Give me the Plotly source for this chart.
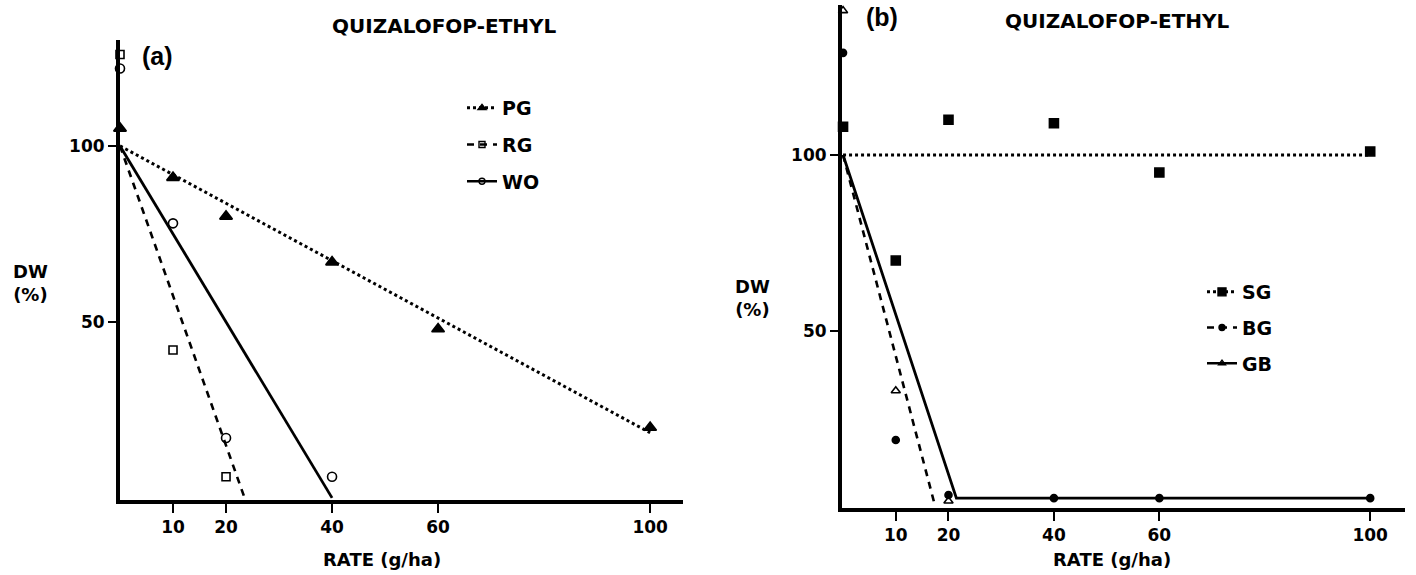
import plotly.graph_objects as go

# ---------------- data: panel (a) ----------------
pg_rate = [0, 10, 20, 40, 60, 100]
pg_dw = [105, 91, 80, 67, 48, 20]
rg_rate = [0, 10, 20]
rg_dw = [126, 42, 6]
wo_rate = [0, 10, 20, 40]
wo_dw = [122, 78, 17, 6]
pg_fit_rate = [0, 100]
pg_fit_dw = [100, 18.5]
rg_fit_rate = [0, 23.5]
rg_fit_dw = [100, 0]
wo_fit_rate = [0, 40]
wo_fit_dw = [100, 0]

# ---------------- data: panel (b) ----------------
sg_rate = [0, 10, 20, 40, 60, 100]
sg_dw = [108, 70, 110, 109, 95, 101]
bg_rate = [0, 10, 20, 40, 60, 100]
bg_dw = [129, 19, 3.4, 2.5, 2.5, 2.5]
gb_rate = [0, 10, 20]
gb_dw = [141, 33, 1.7]
sg_fit_rate = [0, 100]
sg_fit_dw = [100, 100]
bg_fit_rate = [0, 17.5]
bg_fit_dw = [100, 0]
gb_fit_rate = [0, 21.5, 100]
gb_fit_dw = [100, 2.5, 2.5]

x_ticks = [10, 20, 40, 60, 100]
y_ticks = [50, 100]

W, H = 1416, 575
BLACK = "black"
FONT = "DejaVu Sans"

fig = go.Figure()

def add_series(xs, ys, fx, fy, name, symbol, msize, dash, lw, xa, ya, legend, lsym_size):
    fig.add_trace(go.Scatter(x=fx, y=fy, mode="lines", xaxis=xa, yaxis=ya,
                             line=dict(color=BLACK, width=lw, dash=dash),
                             showlegend=False, legendgroup=name, hoverinfo="skip"))
    fig.add_trace(go.Scatter(x=xs, y=ys, mode="markers", xaxis=xa, yaxis=ya,
                             marker=dict(symbol=symbol, size=msize, color=BLACK,
                                         line=dict(color=BLACK, width=1.6)),
                             cliponaxis=False, showlegend=False, legendgroup=name))
    # legend entry (marker + line style)
    fig.add_trace(go.Scatter(x=[None], y=[None], mode="lines+markers", xaxis=xa, yaxis=ya,
                             name=name, legendgroup=name, legend=legend,
                             line=dict(color=BLACK, width=2.5 if dash != "dot" else 3, dash=dash),
                             marker=dict(symbol=symbol, size=lsym_size, color=BLACK,
                                         line=dict(color=BLACK, width=1.4))))

DASH = "7px,6px"
add_series(pg_rate, pg_dw, pg_fit_rate, pg_fit_dw, "PG", "triangle-up", 11, "dot", 3, "x", "y", "legend", 7)
add_series(rg_rate, rg_dw, rg_fit_rate, rg_fit_dw, "RG", "square-open", 8, DASH, 2.6, "x", "y", "legend", 6)
add_series(wo_rate, wo_dw, wo_fit_rate, wo_fit_dw, "WO", "circle-open", 9, "solid", 2.8, "x", "y", "legend", 6)

add_series(sg_rate, sg_dw, sg_fit_rate, sg_fit_dw, "SG", "square", 9, "dot", 3, "x2", "y2", "legend2", 8)
add_series(bg_rate, bg_dw, bg_fit_rate, bg_fit_dw, "BG", "circle", 7, DASH, 2.6, "x2", "y2", "legend2", 6)
add_series(gb_rate, gb_dw, gb_fit_rate, gb_fit_dw, "GB", "triangle-up-open", 8, "solid", 2.8, "x2", "y2", "legend2", 6)

tickfont = dict(family=FONT, size=17, color=BLACK, weight="bold")

def xaxis(domain, rng, anchor):
    return dict(domain=domain, range=rng, anchor=anchor, showgrid=False, zeroline=False,
                showline=True, linecolor=BLACK, linewidth=4,
                ticks="outside", ticklen=9, tickwidth=2, tickcolor=BLACK,
                tickvals=x_ticks, ticktext=[str(v) for v in x_ticks], tickfont=tickfont)

def yaxis(domain, rng, anchor):
    return dict(domain=domain, range=rng, anchor=anchor, showgrid=False, zeroline=False,
                showline=True, linecolor=BLACK, linewidth=4,
                ticks="outside", ticklen=8, tickwidth=2, tickcolor=BLACK,
                tickvals=y_ticks, ticktext=[str(v) for v in y_ticks], tickfont=tickfont)

def px(x):
    return x / W

def py(y):
    return 1 - y / H

ann = []
def text(x, y, s, size, family=FONT, xanchor="center"):
    ann.append(dict(x=px(x), y=py(y), xref="paper", yref="paper", text=s, showarrow=False,
                    xanchor=xanchor, yanchor="middle",
                    font=dict(family=family, size=size, color=BLACK, weight="bold")))

text(444, 26, "QUIZALOFOP-ETHYL", 20)
text(1117, 21, "QUIZALOFOP-ETHYL", 20)
text(157, 56, "(a)", 25, family="Liberation Sans")
text(882, 17, "(b)", 25, family="Liberation Sans")
text(30, 283, "DW<br>(%)", 18)
text(752, 298, "DW<br>(%)", 18)
text(382, 559, "RATE (g/ha)", 18)
text(1112, 559, "RATE (g/ha)", 18)

legend_font = dict(family=FONT, size=19, color=BLACK, weight="bold")

fig.update_layout(
    width=W, height=H,
    margin=dict(l=0, r=0, t=0, b=0),
    paper_bgcolor="white", plot_bgcolor="white",
    xaxis=xaxis([px(120), px(683)], [-0.0, 106.2], "y"),
    yaxis=yaxis([py(500), py(40)], [-0.6, 130.1], "x"),
    xaxis2=xaxis([px(842), px(1405)], [-0.2, 106.6], "y2"),
    yaxis2=yaxis([py(508), py(5)], [-0.3, 142.6], "x2"),
    legend=dict(x=px(462), y=py(89), xanchor="left", yanchor="top", font=legend_font,
                bgcolor="rgba(0,0,0,0)", traceorder="grouped", tracegroupgap=9, itemwidth=30),
    legend2=dict(x=px(1202), y=py(273), xanchor="left", yanchor="top", font=legend_font,
                 bgcolor="rgba(0,0,0,0)", traceorder="grouped", tracegroupgap=8, itemwidth=30),
    annotations=ann,
    showlegend=True,
)

fig.write_html("out.html")
